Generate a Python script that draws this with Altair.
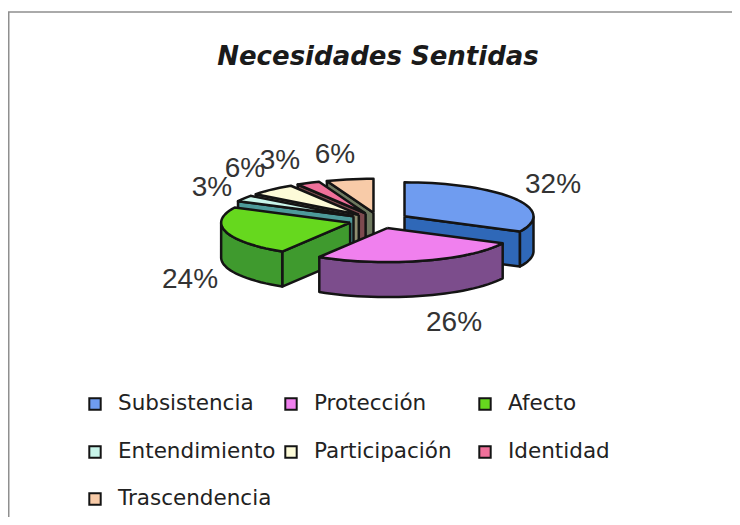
import math
import altair as alt
import pandas as pd

categories = ["Subsistencia", "Protección", "Afecto", "Entendimiento", "Participación", "Identidad", "Trascendencia"]
counts = [11, 9, 8, 1, 2, 1, 2]
top_colors = ["#6f9cf0", "#f080ee", "#66d81e", "#c8f5ea", "#fdfbd8", "#f0709a", "#f8cba8"]
wall_colors = ["#2f68b8", "#7c4d8c", "#3f9a2e", "#4d9a9a", "#8f8f70", "#7d4a4f", "#6f7a60"]
title_text = "Necesidades Sentidas"

W, H = 724, 509
CX, CY = 371, 212.5
RX, RY, DEPTH, EXPLODE = 129.0, 34.0, 35.0, 30.0
LABEL_XY = [(545, 177), (446, 315), (182, 272), (204, 180), (237, 161), (272, 153), (327, 147)]
DRAW_ORDER = [6, 5, 4, 3, 0, 2, 1]
LEG_COLS = [87, 283, 477]
LEG_ROWS = [396, 444, 491]

total = sum(counts)
labels = [f"{round(100 * c / total)}%" for c in counts]
x_scale = alt.Scale(domain=[0, W], range=[0, W], nice=False, zero=False)
y_scale = alt.Scale(domain=[0, H], range=[0, H], nice=False, zero=False)
fill_scale = alt.Scale(domain=categories, range=top_colors)
X = alt.X("x:Q", scale=x_scale, axis=None)
Y = alt.Y("y:Q", scale=y_scale, axis=None)

starts, acc = [], 0
for c in counts:
    starts.append(acc / total * 360)
    acc += c


def pt(ax, ay, a):
    r = math.radians(a)
    return ax + RX * math.sin(r), ay - RY * math.cos(r)


def poly(points, fill=None, cat=None):
    pts = list(points) + [points[0]]
    df = pd.DataFrame({"x": [p[0] for p in pts], "y": [p[1] for p in pts], "i": range(len(pts)), "cat": cat})
    enc = dict(x=X, y=Y, order=alt.Order("i:Q"))
    if cat is None:
        return alt.Chart(df).mark_line(fill=fill, stroke="#141414", strokeWidth=2.5, strokeJoin="round").encode(**enc)
    return alt.Chart(df).mark_line(filled=True, stroke="#141414", strokeWidth=2.5, strokeJoin="round").encode(
        fill=alt.Fill("cat:N", scale=fill_scale, legend=None), **enc)


layers = []
for k in DRAW_ORDER:
    a0 = starts[k]
    a1 = a0 + counts[k] / total * 360
    mid = math.radians((a0 + a1) / 2)
    ax = CX + EXPLODE * math.sin(mid)
    ay = CY - EXPLODE * RY / RX * math.cos(mid)
    steps = max(2, int((a1 - a0) / 3))
    arc_a = [a0 + (a1 - a0) * i / steps for i in range(steps + 1)]
    for edge in (a0, a1):
        s = math.sin(math.radians(edge))
        if (edge == a0 and s < 0) or (edge == a1 and s > 0):
            ex, ey = pt(ax, ay, edge)
            layers.append(poly([(ax, ay), (ex, ey), (ex, ey + DEPTH), (ax, ay + DEPTH)], fill=wall_colors[k]))
    front = [a for a in arc_a if 90 <= a <= 270]
    if a0 < 90 < a1:
        front = [90] + front
    if a0 < 270 < a1:
        front = front + [270]
    if len(front) >= 2:
        outer = [pt(ax, ay, a) for a in front]
        layers.append(poly(outer + [(x, y + DEPTH) for x, y in reversed(outer)], fill=wall_colors[k]))
    layers.append(poly([(ax, ay)] + [pt(ax, ay, a) for a in arc_a], cat=categories[k]))

label_df = pd.DataFrame({"x": [p[0] for p in LABEL_XY], "y": [p[1] for p in LABEL_XY], "t": labels})
label_layer = alt.Chart(label_df).mark_text(font="Liberation Sans", fontSize=28, color="#333333").encode(
    x=X, y=Y, text="t:N")

leg_x = [LEG_COLS[i % 3] for i in range(7)]
leg_y = [LEG_ROWS[i // 3] for i in range(7)]
legend_df = pd.DataFrame({"cat": categories, "x": leg_x, "y": leg_y, "tx": [v + 23 for v in leg_x]})
legend_squares = alt.Chart(legend_df).mark_square(size=130, opacity=1, stroke="#141414", strokeWidth=2).encode(
    x=X, y=Y, fill=alt.Fill("cat:N", scale=fill_scale, legend=None))
legend_text = alt.Chart(legend_df).mark_text(align="left", font="DejaVu Sans", fontSize=21.5, color="#222222").encode(
    x=alt.X("tx:Q", scale=x_scale, axis=None), y=Y, text="cat:N")

frame_df = pd.DataFrame({"x": [724, 0.75, 0.75], "y": [4, 4, H], "i": [0, 1, 2]})
frame = alt.Chart(frame_df).mark_line(stroke="#8f8f8f", strokeWidth=1.5).encode(x=X, y=Y, order=alt.Order("i:Q"))

chart = alt.layer(frame, *layers, label_layer, legend_squares, legend_text).properties(
    width=W, height=H, padding=0, autosize="none",
    title=alt.TitleParams(title_text, font="DejaVu Sans", fontSize=26, fontStyle="italic", fontWeight="bold",
                          color="#1a1a1a", anchor="middle", dy=66, dx=8),
).configure_view(stroke=None, fill="#ffffff")

chart.save("out.html", embed_options={"renderer": "svg", "actions": False})
